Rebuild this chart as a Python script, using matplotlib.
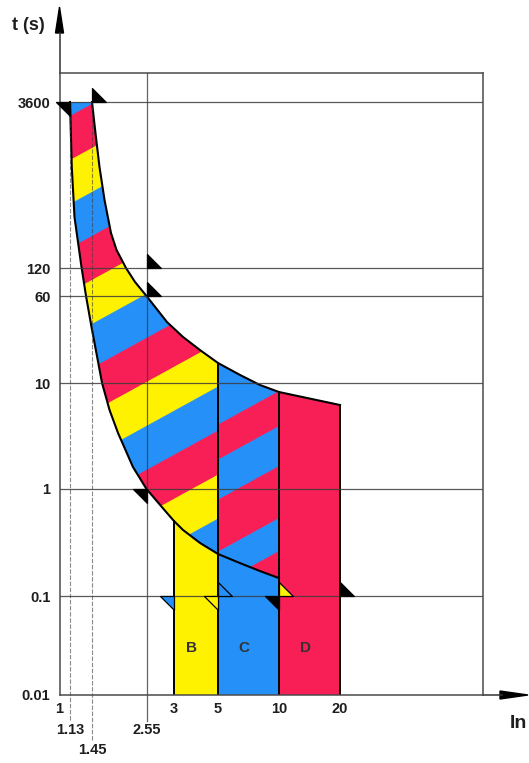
import numpy as np
import matplotlib
matplotlib.use("Agg")
import matplotlib.pyplot as plt
from matplotlib.patches import Polygon
from matplotlib.path import Path

plt.rcParams["font.family"] = ["Liberation Sans", "DejaVu Sans"]

W, H = 529, 763

# ---- chart data -------------------------------------------------------
# tick values on the current axis (multiples of In) and time axis (s)
x_ticks = [1, 3, 5, 10, 20]
x_tick_labels = ["1", "3", "5", "10", "20"]
x_extra_ticks = [1.13, 1.45, 2.55]
x_extra_labels = ["1.13", "1.45", "2.55"]
y_ticks = [0.01, 0.1, 1, 10, 60, 120, 3600]
y_tick_labels = ["0.01", "0.1", "1", "10", "60", "120", "3600"]

# lower edge of the tripping band (conventional non-tripping current)
lower_x = [1.13, 1.153, 1.189, 1.287, 1.355, 1.442, 1.609, 1.739, 1.898,
           2.217, 2.55, 2.878, 3.0, 3.331, 4.058, 5.0, 6.42, 8.06, 10.0]
lower_t = [3600, 950, 341, 122.5, 60, 31.7, 10, 5.56, 3.38,
           1.61, 1.0, 0.597, 0.502, 0.414, 0.313, 0.247, 0.203, 0.171, 0.147]

# upper edge of the tripping band (conventional tripping current)
upper_x = [1.45, 1.503, 1.567, 1.651, 1.765, 1.869, 2.062, 2.264, 2.55,
           2.878, 3.331, 4.058, 5.0, 6.42, 8.06, 10.0, 13.75, 20.0]
upper_t = [3600, 1908, 951, 483, 246, 174, 120, 84.9, 60,
           35.1, 25.8, 19.7, 15.1, 11.8, 9.57, 8.22, 7.22, 6.2]

# instantaneous (magnetic) trip ranges of the B, C and D curves
zone_names = ["B", "C", "D"]
zone_lo = [3, 5, 10]
zone_hi = [5, 10, 20]

# test-point flags: (current, time)
flag_dl_x = [1.13, 2.55, 3, 5, 10]
flag_dl_t = [3600, 1, 0.1, 0.1, 0.1]
flag_ur_x = [1.45, 2.55, 2.55, 5, 10, 20]
flag_ur_t = [3600, 120, 60, 0.1, 0.1, 0.1]

# ---- styling ----------------------------------------------------------
YELLOW = "#FFF200"
BLUE = "#2490F8"
RED = "#F81E56"
INK = "#1e1e1e"
GRID = "#3c3c3c"

flag_dl_colors = ["black", "black", BLUE, YELLOW, "black"]
flag_ur_colors = ["black", "black", "black", BLUE, YELLOW, "black"]

# hatch layout of the band (screen offsets along the stripe normal)
STRIPE_SLOPE = 0.55
LEFT_STRIPE_REF, LEFT_STRIPE_STEP = 463, 44
C_STRIPE_EDGES = [380, 545, 580, 620, 672, 705, 760]

# ---- axis scale: a hand-drawn log paper, piecewise log between ticks ----
X_ANCHOR = np.log10([1, 1.13, 1.45, 2.55, 3, 5, 10, 20])
X_ANCHOR_PX = np.array([59.5, 70, 92, 146.5, 174, 218, 279, 340])
Y_ANCHOR = np.log10([0.01, 0.1, 1, 10, 60, 120, 3600])
Y_ANCHOR_PX = -np.array([695, 596, 489, 383, 296, 268, 102], dtype=float)


def _piecewise(q, xp, fp):
    q = np.asarray(q, dtype=float)
    out = np.interp(q, xp, fp)
    lo = (fp[1] - fp[0]) / (xp[1] - xp[0])
    hi = (fp[-1] - fp[-2]) / (xp[-1] - xp[-2])
    out = np.where(q < xp[0], fp[0] + (q - xp[0]) * lo, out)
    out = np.where(q > xp[-1], fp[-1] + (q - xp[-1]) * hi, out)
    return out


def fx(v):
    v = np.clip(np.asarray(v, dtype=float), 1e-9, None)
    return _piecewise(np.log10(v), X_ANCHOR, X_ANCHOR_PX)


def fx_inv(p):
    return 10 ** _piecewise(p, X_ANCHOR_PX, X_ANCHOR)


def fy(v):
    v = np.clip(np.asarray(v, dtype=float), 1e-9, None)
    return _piecewise(np.log10(v), Y_ANCHOR, Y_ANCHOR_PX)


def fy_inv(p):
    return 10 ** _piecewise(p, Y_ANCHOR_PX, Y_ANCHOR)


AX_L, AX_R, AX_T, AX_B = 59.5, 483.0, 73.0, 695.0

fig = plt.figure(figsize=(W / 100, H / 100), dpi=100)
ax = fig.add_axes([AX_L / W, (H - AX_B) / H, (AX_R - AX_L) / W, (AX_B - AX_T) / H])
ax.set_xscale("function", functions=(fx, fx_inv))
ax.set_yscale("function", functions=(fy, fy_inv))
ax.set_xlim(1, float(fx_inv(AX_R)))
ax.set_ylim(0.01, float(fy_inv(-AX_T)))
ax.set_autoscale_on(False)


def axfrac(px, py):
    return ((px - AX_L) / (AX_R - AX_L), (AX_B - py) / (AX_B - AX_T))


lx, lt = np.array(lower_x), np.array(lower_t)
ux, ut = np.array(upper_x), np.array(upper_t)

# ---- solid instantaneous zones ----------------------------------------
mB = (lx >= 3) & (lx <= 5)
mC = (lx >= 5) & (lx <= 10)
mD = (ux >= 10) & (ux <= 20)
ax.fill(np.r_[3, lx[mB], 5], np.r_[0.01, lt[mB], 0.01], color=YELLOW, lw=0, zorder=1)
ax.fill(np.r_[5, lx[mC], 10], np.r_[0.01, lt[mC], 0.01], color=BLUE, lw=0, zorder=1)
ax.fill(np.r_[10, ux[mD], 20], np.r_[0.01, ut[mD], 0.01], color=RED, lw=0, zorder=1)

# ---- striped thermal band ---------------------------------------------
mL1 = lx <= 5
mU1 = ux <= 5
band_left = Polygon(np.column_stack([np.r_[lx[mL1], ux[mU1][::-1]],
                                     np.r_[lt[mL1], ut[mU1][::-1]]]),
                    closed=True, transform=ax.transData,
                    facecolor="none", edgecolor="none")
mU2 = (ux >= 5) & (ux <= 10)
band_c = Polygon(np.column_stack([np.r_[lx[mC], ux[mU2][::-1]],
                                  np.r_[lt[mC], ut[mU2][::-1]]]),
                 closed=True, transform=ax.transData,
                 facecolor="none", edgecolor="none")
ax.add_patch(band_left)
ax.add_patch(band_c)


def add_stripe(clip, q0, q1, color):
    s = STRIPE_SLOPE
    pts = [axfrac(0, q0), axfrac(W, q0 - s * W),
           axfrac(W, q1 - s * W), axfrac(0, q1)]
    p = Polygon(pts, closed=True, transform=ax.transAxes,
                facecolor=color, edgecolor=color, lw=0.6, zorder=1.5)
    ax.add_patch(p)
    p.set_clip_path(clip)


left_colors = [YELLOW, BLUE, RED]
for n in range(-16, 18):
    q0 = LEFT_STRIPE_REF + n * LEFT_STRIPE_STEP
    add_stripe(band_left, q0, q0 + LEFT_STRIPE_STEP, left_colors[n % 3])

c_colors = [BLUE, RED]
for i in range(len(C_STRIPE_EDGES) - 1):
    add_stripe(band_c, C_STRIPE_EDGES[i], C_STRIPE_EDGES[i + 1], c_colors[i % 2])

# ---- outlines ---------------------------------------------------------
ax.plot(lx, lt, color="black", lw=1.5, zorder=4, solid_joinstyle="round")
ax.plot(ux, ut, color="black", lw=1.5, zorder=4, solid_joinstyle="round")
ax.plot([3, 3], [0.01, np.interp(3, lx, lt)], color="black", lw=1.4, zorder=4)
for xv in [5, 10, 20]:
    ax.plot([xv, xv], [0.01, np.interp(xv, ux, ut)], color="black", lw=1.4, zorder=4)

# ---- grid lines -------------------------------------------------------
for yv in y_ticks[1:]:
    ax.axhline(yv, color=GRID, lw=0.9, alpha=0.85, zorder=5)

to_axes = ax.transAxes.inverted()
y3600 = to_axes.transform(ax.transData.transform((1.5, 3600)))[1]
xtr = ax.get_xaxis_transform()
ax.plot([1.13, 1.13], [axfrac(0, 720)[1], y3600], color=GRID, lw=0.8,
        alpha=0.6, ls=(0, (4, 1.5)), transform=xtr, clip_on=False, zorder=5)
ax.plot([1.45, 1.45], [axfrac(0, 740)[1], y3600], color=GRID, lw=0.8,
        alpha=0.6, ls=(0, (4, 1.5)), transform=xtr, clip_on=False, zorder=5)
ax.plot([2.55, 2.55], [axfrac(0, 721)[1], 1.0], color=GRID, lw=0.9,
        alpha=0.8, transform=xtr, clip_on=False, zorder=5)

# ---- flags ------------------------------------------------------------
flag_dl = Path([(-1, 0), (0, 0), (0, -1), (-1, 0)],
               [Path.MOVETO, Path.LINETO, Path.LINETO, Path.CLOSEPOLY])
flag_ur = Path([(0, 0), (0, 1), (1, 0), (0, 0)],
               [Path.MOVETO, Path.LINETO, Path.LINETO, Path.CLOSEPOLY])
for xv, tv, c in zip(flag_dl_x, flag_dl_t, flag_dl_colors):
    ax.plot([xv], [tv], marker=flag_dl, ms=20, mfc=c, mec="black", mew=0.9,
            ls="none", clip_on=False, zorder=6)
for xv, tv, c in zip(flag_ur_x, flag_ur_t, flag_ur_colors):
    ax.plot([xv], [tv], marker=flag_ur, ms=20, mfc=c, mec="black", mew=0.9,
            ls="none", clip_on=False, zorder=6)

# ---- zone letters -----------------------------------------------------
for name, lo, hi in zip(zone_names, zone_lo, zone_hi):
    ax.annotate(name, xy=(np.sqrt(lo * hi), 0.03), xytext=(-3, 0),
                textcoords="offset points", ha="center", va="center",
                fontsize=11, fontweight="bold", color="#333333", zorder=7)

# ---- axes frame, ticks, arrows ----------------------------------------
for s in ax.spines.values():
    s.set_color("#4a4a4a")
    s.set_linewidth(1.1)
    s.set_zorder(5)

ax.minorticks_off()
ax.set_xticks(x_ticks, labels=x_tick_labels)
ax.set_yticks(y_ticks, labels=y_tick_labels)
ax.tick_params(axis="both", length=0, labelsize=10.5, labelcolor=INK)
ax.tick_params(axis="y", pad=6.5)
ax.tick_params(axis="x", pad=5)
for lab in ax.get_xticklabels() + ax.get_yticklabels():
    lab.set_fontweight("bold")

for xv, lab, py in zip(x_extra_ticks, x_extra_labels, [730, 750, 730]):
    ax.text(xv, axfrac(0, py)[1], lab, transform=xtr, ha="center",
            va="center", fontsize=10.5, fontweight="bold", color=INK)

# axis arrows
ax.plot(*zip(axfrac(AX_L, AX_T), axfrac(AX_L, 33)), color="#333333", lw=1.1,
        transform=ax.transAxes, clip_on=False)
ax.add_patch(Polygon([axfrac(AX_L - 4, 33), axfrac(AX_L + 4, 33), axfrac(AX_L, 7)],
                     closed=True, transform=ax.transAxes, color="black",
                     clip_on=False))
ax.plot(*zip(axfrac(AX_R, AX_B), axfrac(502, AX_B)), color="#333333", lw=1.1,
        transform=ax.transAxes, clip_on=False)
ax.add_patch(Polygon([axfrac(500, AX_B - 4), axfrac(500, AX_B + 4), axfrac(528, AX_B)],
                     closed=True, transform=ax.transAxes, color="black",
                     clip_on=False))

fig.text(28 / W, 1 - 25 / H, "t (s)", ha="center", va="center",
         fontsize=13, fontweight="bold", color=INK)
fig.text(518 / W, 1 - 723 / H, "In", ha="center", va="center",
         fontsize=14, fontweight="bold", color=INK)

fig.savefig("out.png", dpi=100)
